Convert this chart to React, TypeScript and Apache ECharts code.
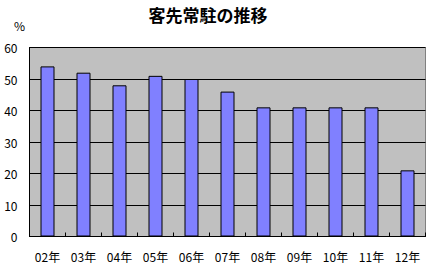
import React, { useEffect, useRef } from "react";
import * as echarts from "echarts";

const categories = ["02年", "03年", "04年", "05年", "06年", "07年", "08年", "09年", "10年", "11年", "12年"];
const values = [54, 52, 48, 51, 50, 46, 41, 41, 41, 41, 21];
const titleText = "客先常駐の推移";
const unitLabel = "%";

export default function App() {
  const ref = useRef<HTMLDivElement>(null);
  useEffect(() => {
    const chart = echarts.init(ref.current!, null, { renderer: "svg" });
    const font = "'Noto Sans CJK JP', sans-serif";
    chart.setOption({
      animation: false,
      backgroundColor: "#ffffff",
      title: {
        text: titleText,
        left: 203,
        textAlign: "center",
        top: 1,
        textStyle: { fontSize: 17, fontWeight: "bold", color: "#000", fontFamily: font },
      },
      graphic: [
        {
          type: "text",
          left: 14,
          top: 19,
          style: { text: unitLabel, fontSize: 12, fill: "#000", fontFamily: font },
        },
        {
          type: "rect",
          shape: { x: 29.5, y: 47.5, width: 396, height: 189 },
          style: { fill: "none", stroke: "#808080", lineWidth: 1 },
          z: 10,
        },
      ],
      grid: {
        left: 29.5,
        top: 47.5,
        width: 396,
        height: 189,
        show: true,
        backgroundColor: "#c0c0c0",
        borderWidth: 0,
      },
      xAxis: {
        type: "category",
        data: categories,
        axisLine: { show: true, lineStyle: { color: "#000", width: 1 } },
        axisTick: { show: true, inside: true, length: 4, lineStyle: { color: "#000" } },
        axisLabel: { fontSize: 12, color: "#000", margin: 14, fontFamily: font },
        splitLine: { show: false },
        z: 11,
      },
      yAxis: {
        type: "value",
        min: 0,
        max: 60,
        interval: 10,
        axisLine: { show: true, lineStyle: { color: "#000", width: 1 } },
        axisTick: { show: false },
        axisLabel: { fontSize: 12, color: "#000", margin: 12, fontFamily: font },
        splitLine: { show: true, lineStyle: { color: "#000", width: 1 } },
        z: 11,
      },
      series: [
        {
          type: "bar",
          data: values,
          barWidth: 14,
          itemStyle: { color: "#8080ff", borderColor: "#000", borderWidth: 1 },
          z: 12,
        },
      ],
    });
    return () => chart.dispose();
  }, []);
  return <div ref={ref} style={{ width: 430, height: 264, position: "absolute", left: 0, top: 0 }} />;
}
